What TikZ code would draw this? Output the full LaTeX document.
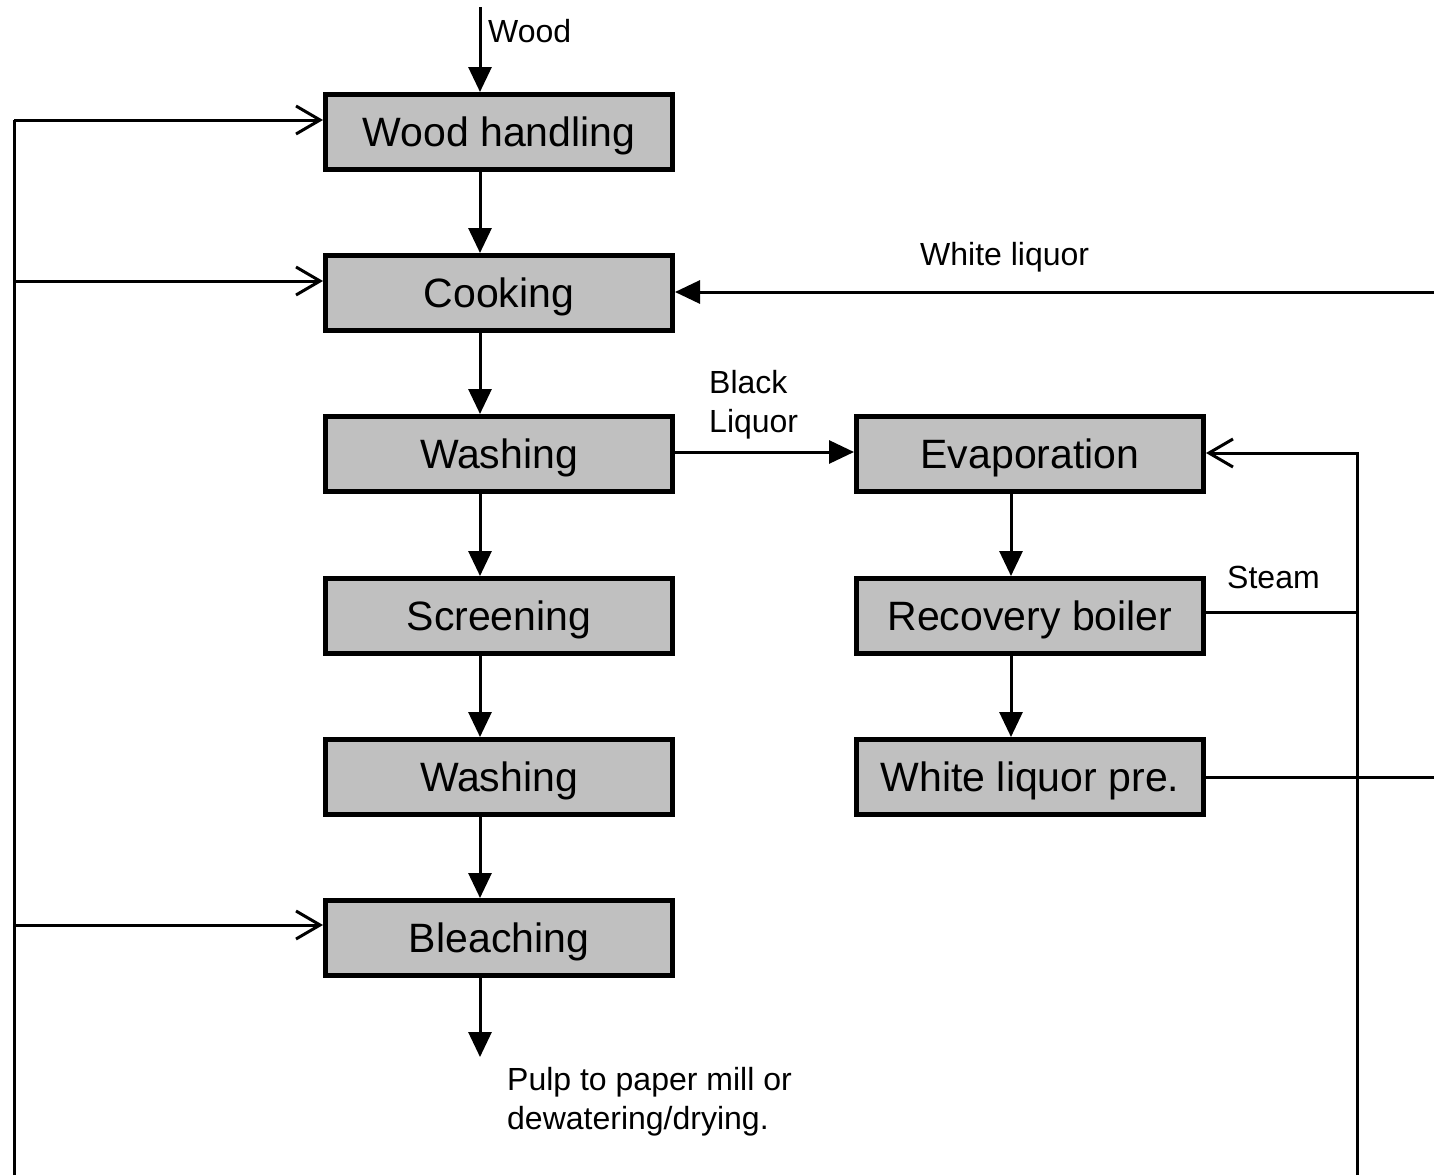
\documentclass[tikz,border=0pt]{standalone}
\usepackage{fontspec}
\setmainfont{Liberation Sans}
\usetikzlibrary{arrows.meta}
\definecolor{boxgray}{RGB}{192,192,192}

\begin{document}
\begin{tikzpicture}[x=1pt,y=-1pt,
  unit/.style={draw=black, line width=5pt, fill=boxgray,
    minimum width=347pt, minimum height=75pt, inner sep=0pt,
    font=\fontsize{41}{49}\selectfont, text height=29.4pt, text depth=0pt},
  flow/.style={line width=3pt, -{Triangle[length=25pt,width=23pt]}},
  feed/.style={line width=3pt, -{Straight Barb[length=24pt,width=28pt]}},
  pipe/.style={line width=3pt},
  lbl/.style={font=\fontsize{32}{39}\selectfont, inner sep=0pt, align=left}]

  % page frame
  \useasboundingbox (0,0) rectangle (1434,1175);

  % fibre line
  \node[unit] (whand)  at (499,132) {Wood handling};
  \node[unit] (cook)   at (499,293) {Cooking};
  \node[unit] (wash1)  at (499,454) {Washing};
  \node[unit] (screen) at (499,616) {Screening};
  \node[unit] (wash2)  at (499,777) {Washing};
  \node[unit] (bleach) at (499,938) {Bleaching};

  % recovery line
  \node[unit] (evap)   at (1030,454) {Evaporation};
  \node[unit] (boiler) at (1030,616) {Recovery boiler};
  \node[unit] (wlp)    at (1030,777) {White liquor pre.};

  % free ends
  \coordinate (woodin) at (480,7);
  \coordinate (pulp)   at (480,1057);
  \coordinate (lbot)   at (14,1175);
  \coordinate (j1)     at (14,120);
  \coordinate (j2)     at (14,281);
  \coordinate (j3)     at (14,925);
  \coordinate (rbot)   at (1357,1175);
  \coordinate (wl)     at (1434,292);
  \coordinate (wp)     at (1434,777);
  \coordinate (bl)     at (675,452);

  % main flow
  \draw[flow] (woodin) -- ([xshift=-19pt]whand.north);
  \foreach \a/\b in {whand/cook, cook/wash1, wash1/screen, screen/wash2, wash2/bleach, evap/boiler, boiler/wlp}
    \draw[flow] ([xshift=-19pt]\a.south) -- ([xshift=-19pt]\b.north);
  \draw[flow] ([xshift=-19pt]bleach.south) -- (pulp);

  % left supply line
  \draw[pipe] (lbot) -- (j1);
  \draw[feed] (j1) -- (j1 -| whand.west);
  \draw[feed] (j2) -- (j2 -| cook.west);
  \draw[feed] (j3) -- (j3 -| bleach.west);

  % liquor circuit
  \draw[flow] (bl -| wash1.east) -- (bl -| evap.west);
  \draw[flow] (wl) -- (wl -| cook.east);
  \draw[pipe] (wp) -- ([xshift=-5pt]wlp.east);

  % steam
  \draw[feed] (rbot) |- ([yshift=1pt]evap.east);
  \draw[pipe] ([yshift=4pt]boiler.east) -- ([yshift=4pt]boiler.east -| rbot);

  % labels
  \node[lbl, anchor=base west] (lwood) at (488,42) {Wood};
  \node[lbl, anchor=base west] (lwl) at (920,265) {White liquor};
  \node[lbl, anchor=north west] (lbl) at (709,370) {Black\\Liquor};
  \node[lbl, anchor=base west] (lsteam) at (1227,588) {Steam};
  \node[lbl, anchor=north west] (lpulp) at (507,1067) {Pulp to paper mill or\\dewatering/drying.};
\end{tikzpicture}
\end{document}
